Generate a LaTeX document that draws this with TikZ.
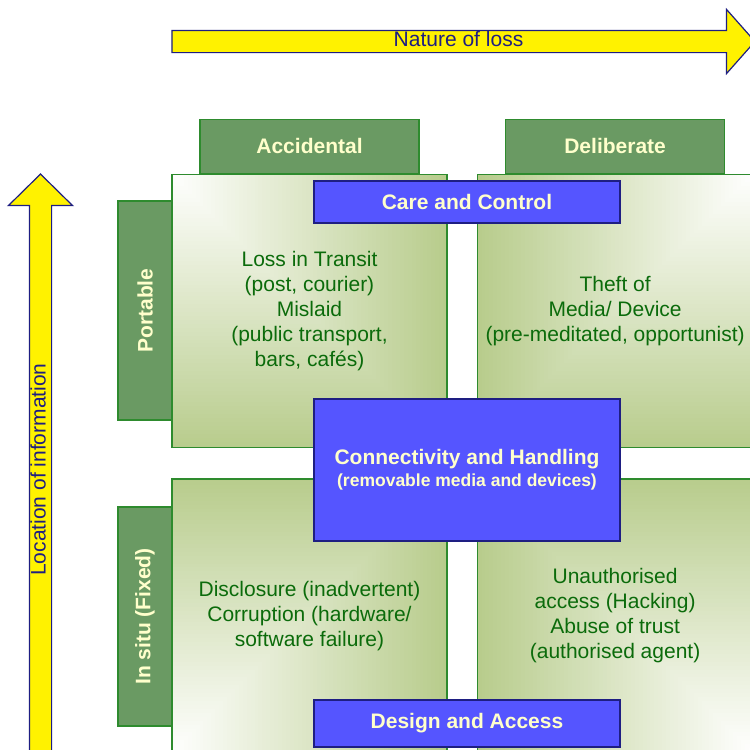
\documentclass[tikz,border=0pt]{standalone}
\usepackage{fontspec}
\setmainfont{Liberation Sans}
\usetikzlibrary{positioning,shapes.arrows}

\definecolor{tabgreen}{HTML}{6A9A63}
\definecolor{edgegreen}{HTML}{2E8B2E}
\definecolor{quadgreen}{HTML}{B8CC8C}
\definecolor{textgreen}{HTML}{0B6B0B}
\definecolor{boxblue}{HTML}{5555FF}
\definecolor{navy}{HTML}{1E1E82}
\definecolor{cream}{HTML}{FFFFCC}

\begin{document}
\begin{tikzpicture}[x=1pt, y=-1pt, font=\fontsize{21}{25}\selectfont,
		quad/.style n args={3}{line width=1.6pt, fill=quadgreen, postaction={draw=edgegreen}, minimum width=275pt, minimum height=273pt, inner sep=2pt, text=textgreen, align=center,
			path picture={\foreach \i [evaluate=\i as \g using 100-\i*100/70] in {0,...,69}
				\fill[quadgreen!\g!white] (path picture bounding box.#1) rectangle ++({#2*275*(1-\i/70)},{#3*275*(1-\i/70)});}},
		tab/.style={draw=edgegreen, line width=1.2pt, fill=tabgreen, text=cream, font=\fontsize{21}{25}\selectfont\bfseries, minimum width=219pt, minimum height=54pt},
		bluebox/.style={draw=navy, line width=1.2pt, fill=boxblue, text=cream, font=\fontsize{21}{25}\selectfont\bfseries, minimum width=306pt, align=center},
		arr/.style={single arrow, draw=navy, line width=1.2pt, fill=yellow, text=navy, single arrow head extend=21pt, text height=14pt, text depth=4pt, inner ysep=1.5pt, inner xsep=0pt}]
		\useasboundingbox (0,0) rectangle (750,750);
		\clip (0,0) rectangle (750,750);

		\node[arr, minimum height=583pt, single arrow tip angle=97] (nature) at (458.5,41.5) {Nature of loss};
		\node[arr, rotate=90, minimum height=580pt, single arrow tip angle=91] (location) at (40.5,469.5) {Location of information};

		\node[quad={north west}{1}{1}] (tl) at (309.5,311) {Loss in Transit\\(post, courier)\\Mislaid\\(public transport,\\bars, cafés)};
		\node[quad={north east}{-1}{1}, right=29pt of tl] (tr) {Theft of\\Media/ Device\\(pre-meditated, opportunist)};
		\node[quad={south west}{1}{-1}, below=30pt of tl] (bl) {Disclosure (inadvertent)\\Corruption (hardware/\\software failure)};
		\node[quad={south east}{-1}{-1}, below=30pt of tr] (br) {Unauthorised\\access (Hacking)\\Abuse of trust\\(authorised agent)};

		\node[tab, above=0pt of tl] (acc) {Accidental};
		\node[tab, above=0pt of tr] (del) {Deliberate};
		\node[tab, rotate=90] (port) at (145,310.5) {Portable};
		\node[tab, rotate=90] (situ) at (145,616.5) {In situ (Fixed)};

		\node[bluebox, minimum height=42pt] (care) at (467,202) {Care and Control};
		\node[bluebox, minimum height=142pt] (conn) at (467,470) {Connectivity and Handling\\[-3pt]\fontsize{17.5}{21}\selectfont(removable media and devices)};
		\node[bluebox, minimum height=47pt] (design) at (467,723.5) {Design and Access};
	\end{tikzpicture}
\end{document}
